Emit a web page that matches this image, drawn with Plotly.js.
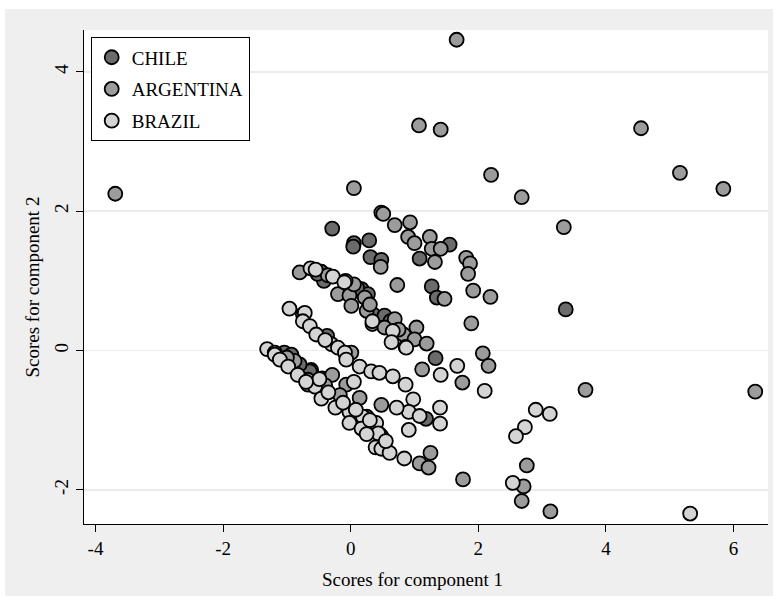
<!DOCTYPE html>
<html>
<head>
<meta charset="utf-8">
<script src="https://cdn.plot.ly/plotly-3.0.1.min.js"></script>
<style>
  html, body { margin: 0; padding: 0; background: #ffffff; }
  #bg { position: absolute; left: 5px; top: 9px; width: 768px; height: 587px; background: #efefef; }
  #chart { position: absolute; left: 0; top: 0; width: 778px; height: 601px; }
</style>
</head>
<body>
<div id="bg"></div>
<div id="chart"></div>
<script>
// Series names
const seriesNames = ["CHILE", "ARGENTINA", "BRAZIL"];

// CHILE scores
const chileX = [-0.29, 0.05, 0.04, 0.29, 0.31, 0.48, 1.08, 1.55, 1.27, 1.35, 0.17, 0.27, 0.35, 0.53, 1.33, 3.37,
  -0.46, -0.42, -0.37, -1.04, -0.93, -0.62, 0.48, 1.18, -1.06, -0.64, 0.45, -0.52,
  -0.80, -0.45, 0.25, 0.10, 0.62];
const chileY = [1.75, 1.54, 1.49, 1.58, 1.34, 1.30, 1.32, 1.52, 0.92, 0.76, 0.88, 0.81, 0.52, 0.50, -0.11, 0.59,
  1.13, 1.00, 0.21, -0.03, -0.06, -0.28, -1.23, -0.98, -0.13, -0.30, -1.20, 1.10,
  -0.20, -0.40, -0.95, 0.90, 0.42];

// ARGENTINA scores
const argX = [-3.69, 1.66, 1.07, 1.41, 4.55, 5.16, 5.84, 2.20, 2.68, 0.05, 3.34, 3.68, 6.34, 2.76, 2.71, 2.68, 3.13,
  1.76, 1.25, 1.08, 1.22, 2.07, 2.16, 1.75, 1.12,
  0.48, 0.51, 0.69, 0.93, 0.90, 1.00, 1.24, 1.27, 1.41, 1.32, 1.81, 1.87, 1.84, 1.92, 2.19, 1.89, 0.73, 1.47, 0.47,
  -0.36, -0.20, -0.02, 0.22, 0.01, 0.25, 0.34, 0.69, 0.53, 0.83, 1.03, 1.00, 1.19,
  0.01, -0.29, -0.88, -0.67, -0.67, -0.07, 0.14, 0.48, -0.17, -0.80, 0.05,
  -0.40, -1.00, 0.75, 0.30];
const argY = [2.25, 4.46, 3.23, 3.17, 3.19, 2.55, 2.32, 2.52, 2.20, 2.33, 1.77, -0.565, -0.59, -1.65, -1.95, -2.16, -2.31,
  -1.85, -1.47, -1.62, -1.68, -0.04, -0.22, -0.46, -0.27,
  1.98, 1.96, 1.80, 1.84, 1.63, 1.54, 1.63, 1.46, 1.46, 1.27, 1.33, 1.25, 1.10, 0.86, 0.77, 0.39, 0.94, 0.74, 1.20,
  1.08, 0.81, 0.79, 0.76, 0.64, 0.57, 0.38, 0.45, 0.33, 0.23, 0.33, 0.16, 0.10,
  -0.03, -0.35, -0.15, -0.42, -0.49, -0.49, -0.68, -0.78, -0.64, 1.12, 0.95,
  -0.50, -0.10, 0.30, 0.66];

// BRAZIL scores
const brazilX = [5.32, 2.90, 3.12, 2.73, 2.59, 2.54, 0.84, 1.67, 2.10, 1.41, 0.86, 0.98, 1.40, 1.40, 0.91, 0.91, 0.86,
  -0.63, -0.28, -0.08, 0.34, 0.66, 0.64, 0.87, -0.55,
  -0.96, -0.75, -0.72, -0.75, -0.64, -0.54, -0.30, -0.20, -0.09, -0.07, 0.14, 0.32, 0.45, 0.66,
  -1.31, -1.19, -1.19, -1.11, -0.98, -0.83, -0.56, -0.49, -0.46, -0.24, -0.02, 0.19, -0.02, 0.17, 0.40, 0.43,
  0.39, 0.48, 0.61, 0.72, 1.08, -0.10, 0.05,
  -0.70, -0.35, -0.12, 0.08, 0.30, 0.55, 0.25, -0.40];
const brazilY = [-2.34, -0.85, -0.91, -1.10, -1.23, -1.90, -1.55, -0.22, -0.58, -0.35, -0.49, -0.70, -0.82, -1.05, -1.14, -0.88, 0.05,
  1.18, 1.06, 1.00, 0.42, 0.28, 0.12, 0.04, 1.16,
  0.60, 0.52, 0.54, 0.42, 0.35, 0.23, 0.09, 0.04, -0.03, -0.13, -0.23, -0.30, -0.32, -0.37,
  0.02, -0.03, -0.06, -0.13, -0.23, -0.35, -0.52, -0.41, -0.69, -0.82, -0.88, -0.95, -1.04, -1.12, -1.04, -1.19,
  -1.39, -1.41, -1.47, -0.82, -0.94, 0.98, -0.45,
  -0.45, -0.60, -0.75, -0.85, -1.00, -1.30, -1.20, 0.15];

// X / Y tick values
const xTicks = [-4, -2, 0, 2, 4, 6];
const yTicks = [-2, 0, 2, 4];

const fills = ["#6b6b6b", "#9c9c9c", "#d4d4d4"];
const xs = [chileX, argX, brazilX];
const ys = [chileY, argY, brazilY];

const serif = "Liberation Serif, Times New Roman, serif";

const traces = seriesNames.map((name, i) => ({
  type: "scatter",
  mode: "markers",
  name: name,
  x: xs[i],
  y: ys[i],
  legendgroup: "g" + i,
  marker: { size: 14, color: fills[i], line: { color: "#000000", width: 1.8 } },
  hoverinfo: "x+y+name"
}));

const layout = {
  width: 778,
  height: 601,
  paper_bgcolor: "rgba(0,0,0,0)",
  plot_bgcolor: "#ffffff",
  margin: { l: 84, r: 10, t: 30, b: 77 },
  font: { family: serif, size: 19, color: "#000000" },
  showlegend: true,
  legend: {
    x: 0.0098, y: 0.985, xanchor: "left", yanchor: "top",
    bgcolor: "#ffffff", bordercolor: "#000000", borderwidth: 1,
    font: { family: serif, size: 19, color: "#000000" },
    tracegroupgap: 4,
    traceorder: "grouped"
  },
  xaxis: {
    range: [-4.18, 6.54],
    tickvals: xTicks,
    ticktext: xTicks.map(String),
    showgrid: false, zeroline: false,
    showline: true, linecolor: "#000000", linewidth: 1,
    ticks: "outside", ticklen: 7, tickcolor: "#000000", tickwidth: 1,
    tickfont: { family: serif, size: 19 },
    mirror: false
  },
  yaxis: {
    range: [-2.49, 4.60],
    tickvals: yTicks,
    ticktext: yTicks.map(String),
    tickangle: -90,
    showgrid: true, gridcolor: "#ebebeb", gridwidth: 1.5,
    zeroline: false,
    showline: true, linecolor: "#000000", linewidth: 1,
    ticks: "outside", ticklen: 7, tickcolor: "#000000", tickwidth: 1,
    tickfont: { family: serif, size: 19 }
  },
  annotations: [
    { text: "Scores for component 1", xref: "paper", yref: "paper", x: 0.48, y: -0.113,
      xanchor: "center", yanchor: "middle", showarrow: false, font: { family: serif, size: 19 } },
    { text: "Scores for component 2", xref: "paper", yref: "paper", x: -0.075, y: 0.48,
      xanchor: "center", yanchor: "middle", textangle: -90, showarrow: false, font: { family: serif, size: 19 } }
  ]
};

Plotly.newPlot("chart", traces, layout, { displayModeBar: false, staticPlot: true });
</script>
</body>
</html>
